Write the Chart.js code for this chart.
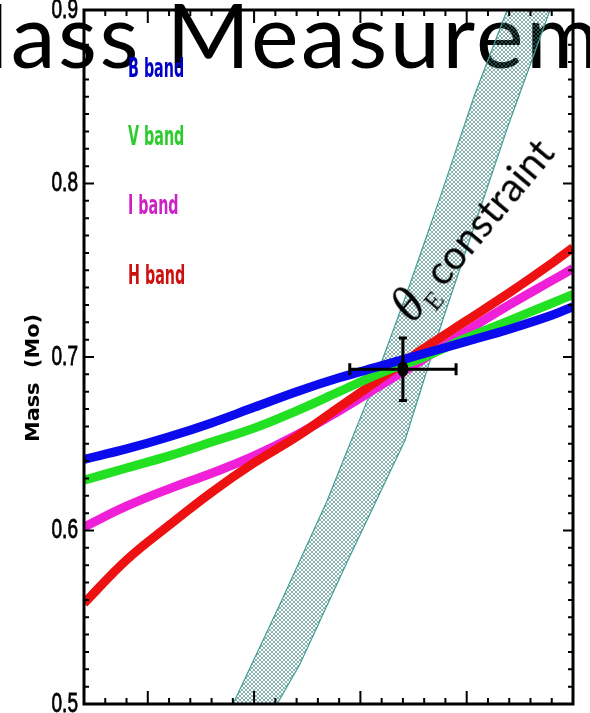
<!DOCTYPE html>
<html>
<head>
<meta charset="utf-8">
<script src="https://cdn.jsdelivr.net/npm/chart.js@4.4.1/dist/chart.umd.min.js"></script>
<style>
  html, body { margin: 0; padding: 0; background: #fff; }
  #wrap { position: relative; width: 590px; height: 713px; overflow: hidden; }
  #title { position: absolute; left: -74px; top: -12px; font-family: Lato, sans-serif; font-size: 90px; letter-spacing: 2.5px; line-height: 1; white-space: nowrap; color: #000; z-index: 0; }
  #chart { position: absolute; left: 0; top: 0; z-index: 1; }
  #theta { position: absolute; left: 383px; top: 300px; transform-origin: 0 0; transform: rotate(-50deg); white-space: nowrap; line-height: 44px; color: #000; z-index: 2; }
  #theta .th { font-family: "Liberation Serif", serif; font-style: italic; font-size: 50px; }
  #theta sub { font-family: "Liberation Serif", serif; font-size: 25px; vertical-align: -9px; }
  #theta .tx { font-family: Lato, sans-serif; font-size: 40px; margin-left: 8px; }
</style>
</head>
<body>
<div id="wrap">
  <div id="title">Mass Measurement</div>
  <canvas id="chart" width="590" height="713"></canvas>
  <div id="theta"><span class="th">θ</span><sub>E</sub><span class="tx">constraint</span></div>
</div>
<script>
// x positions (arbitrary axis units, the reference shows no x labels)
const xValues = [0, 2, 4, 6, 8, 10, 12, 14, 16, 18, 20, 22, 23];

// mass (solar masses) per band
const massB = [0.641, 0.647, 0.654, 0.662, 0.671, 0.680, 0.688, 0.695, 0.702, 0.709, 0.716, 0.724, 0.729];
const massV = [0.629, 0.636, 0.643, 0.651, 0.659, 0.669, 0.680, 0.691, 0.700, 0.711, 0.721, 0.731, 0.736];
const massI = [0.602, 0.614, 0.624, 0.633, 0.643, 0.655, 0.669, 0.684, 0.699, 0.715, 0.730, 0.744, 0.751];
const massH = [0.558, 0.583, 0.603, 0.622, 0.639, 0.654, 0.671, 0.688, 0.705, 0.721, 0.737, 0.754, 0.763];

const bandNames = ['B band', 'V band', 'I band', 'H band'];
const lineColors = ['#0b0bee', '#22e022', '#f020d8', '#ee1111'];
const textColors = ['#0000c8', '#2ccc2c', '#cc22c4', '#cc1010'];

// theta_E constraint band edges
const edgeLeftX  = [7.01, 9.27, 11.43, 13.36, 15.10, 16.75, 18.34, 19.90];
const edgeLeftY  = [0.500, 0.559, 0.617, 0.676, 0.734, 0.792, 0.850, 0.900];
const edgeRightX = [23.0, 21.92, 19.94, 16.89, 15.10, 12.42, 10.16, 9.08, 0];
const edgeRightY = [0.900, 0.900, 0.833, 0.722, 0.652, 0.583, 0.523, 0.500, 0.500];

// measured point with error bars
const measuredX = [15.0];
const measuredY = [0.693];
const errX = [2.5];
const errY = [0.018];

// axis ticks
const yTickValues = [0.5, 0.6, 0.7, 0.8, 0.9];
const yTickLabels = ['0.5', '0.6', '0.7', '0.8', '0.9'];
const xMajorTicks = [3, 8, 13, 18, 23];
const yTitle = 'Mass  (Mo)';

const yMinorTicks = [];
for (let v = 50; v <= 90; v++) yMinorTicks.push(v / 100);
const xMinorTicks = [];
for (let v = 0; v <= 23; v++) xMinorTicks.push(v);

function hatch() {
  const c = document.createElement('canvas');
  c.width = 4; c.height = 4;
  const g = c.getContext('2d');
  g.strokeStyle = 'rgba(55,125,120,0.6)';
  g.lineWidth = 1;
  g.beginPath();
  g.moveTo(0, 0); g.lineTo(4, 4);
  g.moveTo(4, 0); g.lineTo(0, 4);
  g.stroke();
  return g.createPattern(c, 'repeat');
}

const series = [massB, massV, massI, massH];
const bandDatasets = series.map((arr, i) => ({
  label: bandNames[i],
  data: arr.map((v, k) => ({ x: xValues[k], y: v })),
  borderColor: lineColors[i],
  borderWidth: 9,
  pointRadius: 0,
  tension: 0.4,
  fill: false,
  order: [1, 2, 4, 3][i]
}));

const edgePts = edgeLeftX.map((x, i) => ({ x, y: edgeLeftY[i] }))
  .concat(edgeRightX.map((x, i) => ({ x, y: edgeRightY[i] })));

const legendY = [70, 138, 207, 277];

const idlFrame = {
  id: 'idlFrame',
  afterDatasetsDraw(chart) {
    const { ctx, scales: { x, y } } = chart;
    ctx.save();
    ctx.strokeStyle = '#000';
    ctx.lineWidth = 3;
    measuredX.forEach((mx, i) => {
      const px = x.getPixelForValue(mx), py = y.getPixelForValue(measuredY[i]);
      const x0 = x.getPixelForValue(mx - errX[i]), x1 = x.getPixelForValue(mx + errX[i]);
      const y0 = y.getPixelForValue(measuredY[i] + errY[i]), y1 = y.getPixelForValue(measuredY[i] - errY[i]);
      ctx.beginPath();
      ctx.moveTo(x0, py); ctx.lineTo(x1, py);
      ctx.moveTo(px, y0); ctx.lineTo(px, y1);
      ctx.moveTo(x0, py - 6); ctx.lineTo(x0, py + 6);
      ctx.moveTo(x1, py - 6); ctx.lineTo(x1, py + 6);
      ctx.moveTo(px - 4, y0); ctx.lineTo(px + 4, y0);
      ctx.moveTo(px - 4, y1); ctx.lineTo(px + 4, y1);
      ctx.stroke();
      ctx.beginPath();
      ctx.ellipse(px, py, 5.5, 8, 0, 0, Math.PI * 2);
      ctx.fillStyle = '#000';
      ctx.fill();
    });
    ctx.restore();
  },
  afterDraw(chart) {
    const { ctx, chartArea: a, scales: { x, y } } = chart;
    ctx.save();
    ctx.strokeStyle = '#000';
    ctx.lineWidth = 3;
    ctx.strokeRect(a.left, a.top, a.right - a.left, a.bottom - a.top);

    ctx.lineWidth = 2;
    ctx.beginPath();
    yMinorTicks.forEach(v => {
      const py = y.getPixelForValue(v);
      const len = yTickValues.some(t => Math.abs(t - v) < 1e-6) ? 10 : 5;
      ctx.moveTo(a.left, py); ctx.lineTo(a.left + len, py);
      ctx.moveTo(a.right, py); ctx.lineTo(a.right - len, py);
    });
    xMinorTicks.forEach(v => {
      const px = x.getPixelForValue(v);
      const len = xMajorTicks.includes(v) ? 13 : 6;
      ctx.moveTo(px, a.bottom); ctx.lineTo(px, a.bottom - len);
      ctx.moveTo(px, a.top); ctx.lineTo(px, a.top + len);
    });
    ctx.stroke();

    // y tick labels
    ctx.fillStyle = '#000';
    ctx.strokeStyle = '#000';
    ctx.lineWidth = 0.8;
    ctx.font = '28px "Liberation Sans"';
    ctx.textBaseline = 'middle';
    ctx.textAlign = 'right';
    yTickValues.forEach((v, i) => {
      const py = y.getPixelForValue(v);
      ctx.save();
      ctx.translate(a.left - 6, py);
      ctx.scale(0.68, 1);
      ctx.fillText(yTickLabels[i], 0, 0);
      ctx.strokeText(yTickLabels[i], 0, 0);
      ctx.restore();
    });

    // y title
    ctx.save();
    ctx.translate(34, 378);
    ctx.rotate(-Math.PI / 2);
    ctx.font = 'bold 19px "DejaVu Sans"';
    const w = ctx.measureText(yTitle).width;
    ctx.scale(128 / w, 1);
    ctx.textAlign = 'center';
    ctx.fillText(yTitle, 0, 0);
    ctx.restore();

    // band labels
    ctx.font = 'bold 26px "DejaVu Sans"';
    ctx.textAlign = 'left';
    chart.data.datasets.forEach(ds => {
      const i = bandNames.indexOf(ds.label);
      if (i < 0) return;
      ctx.save();
      ctx.translate(128, legendY[i]);
      ctx.scale(0.55, 1);
      ctx.fillStyle = textColors[i];
      ctx.fillText(ds.label, 0, 0);
      ctx.restore();
    });
    ctx.restore();
  }
};

new Chart(document.getElementById('chart'), {
  type: 'line',
  data: {
    datasets: [
      {
        label: 'measured',
        data: measuredX.map((x, i) => ({ x, y: measuredY[i] })),
        showLine: false,
        pointRadius: 0,
        order: 0
      },
      ...bandDatasets,
      {
        label: 'theta_E constraint',
        data: edgePts,
        borderColor: '#3f9f95',
        borderWidth: 1.2,
        backgroundColor: hatch(),
        pointRadius: 0,
        tension: 0,
        fill: 'shape',
        order: 10
      }
    ]
  },
  options: {
    responsive: false,
    animation: false,
    layout: { padding: { left: 84, top: 10, right: 17, bottom: 9 } },
    plugins: { legend: { display: false }, tooltip: { enabled: false }, title: { display: false } },
    scales: {
      x: { type: 'linear', min: 0, max: 23, display: false },
      y: { min: 0.5, max: 0.9, display: false }
    }
  },
  plugins: [idlFrame]
});
</script>
</body>
</html>
